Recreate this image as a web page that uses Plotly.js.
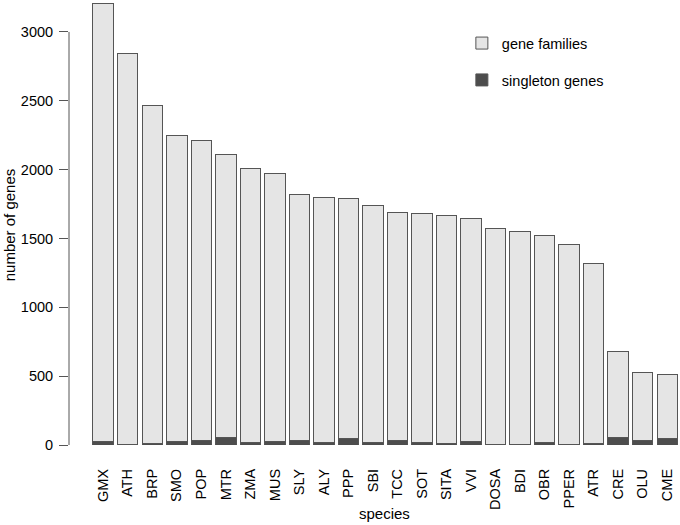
<!DOCTYPE html>
<html>
<head>
<meta charset="utf-8">
<script src="https://cdn.plot.ly/plotly-3.0.1.min.js"></script>
<style>
  body { margin: 0; background: #fff; }
  #genes { width: 680px; height: 525px; }
</style>
</head>
<body>
<div id="genes"></div>
<script>
// Species, sorted by total number of genes
var species = ["GMX", "ATH", "BRP", "SMO", "POP", "MTR", "ZMA", "MUS", "SLY", "ALY", "PPP", "SBI",
               "TCC", "SOT", "SITA", "VVI", "DOSA", "BDI", "OBR", "PPER", "ATR", "CRE", "OLU", "CME"];

// Genes in families (light part of each bar)
var geneFamilies = [3178, 2835, 2456, 2221, 2176, 2058, 1992, 1950, 1783, 1783, 1741, 1728,
                    1657, 1660, 1656, 1621, 1571, 1552, 1503, 1449, 1304, 620, 495, 468];

// Singleton genes (dark part at the bottom)
var singletonGenes = [25, 5, 8, 25, 35, 53, 15, 25, 33, 18, 48, 15,
                      33, 18, 8, 25, 3, 2, 20, 6, 13, 58, 30, 45];

var yTicks = [0, 500, 1000, 1500, 2000, 2500, 3000];

var edge = {color: '#555555', width: 1};

var traceSingle = {
    type: 'bar',
    name: 'singleton genes',
    legendgroup: 's',
    legendrank: 2,
    x: species,
    y: singletonGenes,
    marker: {color: '#4d4d4d', line: edge},
    hoverinfo: 'x+y+name'
};

var traceFam = {
    type: 'bar',
    name: 'gene families',
    legendgroup: 'f',
    legendrank: 1,
    x: species,
    y: geneFamilies,
    marker: {color: '#e5e5e5', line: edge},
    hoverinfo: 'x+y+name'
};

var layout = {
    width: 680,
    height: 525,
    margin: {l: 69, r: 0, t: 0, b: 80},
    paper_bgcolor: '#ffffff',
    plot_bgcolor: '#ffffff',
    font: {family: '"Liberation Sans", Arial, sans-serif', size: 15, color: '#000000'},
    barmode: 'stack',
    bargap: 0.164,
    xaxis: {
        type: 'category',
        range: [-1.395, 23.52],
        tickangle: -90,
        ticks: '',
        ticklabelstandoff: 20,
        showline: false,
        showgrid: false,
        zeroline: false,
        tickfont: {size: 14.5}
    },
    yaxis: {
        range: [0, 3232],
        tickvals: yTicks,
        ticktext: yTicks.map(String),
        ticks: 'outside',
        ticklen: 9,
        tickcolor: '#555555',
        tickwidth: 1,
        ticklabelstandoff: 3,
        showline: false,
        showgrid: false,
        zeroline: false,
        tickfont: {size: 14.5}
    },
    shapes: [{
        type: 'line', xref: 'paper', yref: 'y',
        x0: 0, x1: 0, y0: 0, y1: 3000,
        line: {color: '#555555', width: 1}
    }],
    annotations: [
        {text: 'species', xref: 'paper', yref: 'paper', x: 0.517, y: -0.153,
         xanchor: 'center', yanchor: 'middle', showarrow: false, font: {size: 15}},
        {text: 'number of genes', xref: 'paper', yref: 'paper', x: -0.098, y: 0.494,
         textangle: -90, xanchor: 'center', yanchor: 'middle', showarrow: false, font: {size: 15}}
    ],
    showlegend: true,
    legend: {
        x: 0.643, y: 0.939, xanchor: 'left', yanchor: 'top',
        traceorder: 'grouped',
        tracegroupgap: 15,
        bgcolor: 'rgba(0,0,0,0)',
        font: {size: 14.5}
    }
};

Plotly.newPlot('genes', [traceSingle, traceFam], layout, {displayModeBar: false});
</script>
</body>
</html>
